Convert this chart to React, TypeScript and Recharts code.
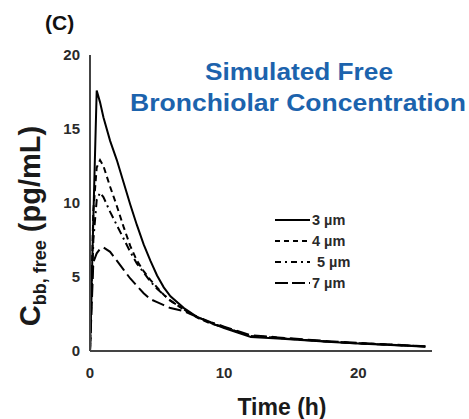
import React from 'react';
import { LineChart, Line, XAxis, YAxis, Customized } from 'recharts';

const times = [0, 0.25, 0.5, 0.75, 1, 1.5, 2, 2.5, 3, 3.5, 4, 4.5, 5, 5.5, 6, 7, 8, 9, 10, 11, 12, 13, 14, 16, 18, 20, 22, 24, 25];
const s3 = [0, 9.0, 17.6, 16.8, 15.8, 14.2, 12.9, 11.4, 9.9, 8.5, 7.2, 6.1, 5.1, 4.3, 3.7, 2.9, 2.3, 1.9, 1.55, 1.25, 0.95, 0.9, 0.85, 0.72, 0.6, 0.5, 0.42, 0.33, 0.28];
const s4 = [0, 9.5, 12.4, 12.9, 12.5, 11.1, 9.8, 8.4, 7.1, 6.1, 5.4, 4.8, 4.3, 3.8, 3.4, 2.8, 2.25, 1.85, 1.6, 1.3, 1.0, 0.95, 0.9, 0.75, 0.62, 0.52, 0.44, 0.35, 0.3];
const s5 = [0, 7.5, 10.2, 10.7, 10.4, 9.4, 8.5, 7.6, 6.7, 5.9, 5.3, 4.7, 4.2, 3.8, 3.4, 2.8, 2.3, 1.9, 1.6, 1.3, 1.0, 0.95, 0.88, 0.74, 0.62, 0.52, 0.43, 0.35, 0.3];
const s7 = [0, 6.0, 6.6, 6.9, 7.0, 6.7, 6.1, 5.5, 4.9, 4.4, 3.9, 3.5, 3.3, 3.1, 2.9, 2.7, 2.3, 1.95, 1.65, 1.35, 1.05, 1.0, 0.92, 0.78, 0.65, 0.55, 0.46, 0.37, 0.32];

const seriesNames = ['3 µm', '4 µm', '5 µm', '7 µm'];
const seriesKeys = ['s3', 's4', 's5', 's7'];
const seriesDash = ['', '6 4', '8 4 2 4', '13 5'];
const legendDash = ['', '5 4', '6 4 2 4', '13 4'];
const xTicks = [0, 10, 20];
const yTicks = [0, 5, 10, 15, 20];

const data = times.map((t, i) => ({ t, s3: s3[i], s4: s4[i], s5: s5[i], s7: s7[i] }));

const FONT = 'Liberation Sans, Arial, sans-serif';
const TICK = { fontFamily: FONT, fontSize: 15, fontWeight: 700, fill: '#2a2a2a' };

const LegendBlock = () => (
  <g transform="translate(275, 220)">
    {seriesNames.map((n, i) => (
      <g key={n}>
        <line x1={0} x2={35} y1={i * 21} y2={i * 21} stroke="#000" strokeWidth={2} strokeDasharray={legendDash[i]} />
        <text x={i === 2 ? 42 : 37} y={i * 21} dy="0.35em" fontFamily={FONT} fontSize={14.5} fontWeight={700} fill="#2a2a2a">{n}</text>
      </g>
    ))}
  </g>
);

const YLabel = () => (
  <text transform="rotate(-90, 40, 226)" x={40} y={226} textAnchor="middle" fontFamily={FONT} fontWeight={700} fill="#1a1a1a" fontSize={29}>
    <tspan>C</tspan>
    <tspan fontSize={18} dy={6}>bb, free</tspan>
    <tspan dy={-6}> (pg/mL)</tspan>
  </text>
);

const Extras = () => (
  <g>
    <text x={45} y={30} fontFamily={FONT} fontWeight={700} fontSize={21} fill="#111">(C)</text>
    <text x={299} y={80} textAnchor="middle" fontFamily={FONT} fontWeight={700} fontSize={24} fill="#1c63ad" textLength={188} lengthAdjust="spacingAndGlyphs">Simulated Free</text>
    <text x={298} y={111} textAnchor="middle" fontFamily={FONT} fontWeight={700} fontSize={24} fill="#1c63ad" textLength={336} lengthAdjust="spacingAndGlyphs">Bronchiolar Concentration</text>
    <text x={282} y={415} textAnchor="middle" fontFamily={FONT} fontWeight={700} fontSize={23} fill="#1a1a1a">Time (h)</text>
    <YLabel />
    <LegendBlock />
  </g>
);

export default function App() {
  return (
    <div style={{ position: 'absolute', left: 0, top: 0, background: '#fff' }}>
      <LineChart width={469} height={419} data={data} margin={{ top: 55, right: 37, bottom: 38, left: 40 }}>
        <XAxis
          dataKey="t"
          type="number"
          domain={[0, 25.5]}
          ticks={xTicks}
          tickLine={false}
          tickMargin={10}
          axisLine={{ stroke: '#444', strokeWidth: 2 }}
          tick={TICK}
          height={30}
        />
        <YAxis
          type="number"
          domain={[0, 20]}
          ticks={yTicks}
          tickLine={false}
          tickMargin={4}
          axisLine={{ stroke: '#444', strokeWidth: 2 }}
          tick={TICK}
          width={50}
        />
        {seriesKeys.map((k, i) => (
          <Line
            key={k}
            dataKey={k}
            name={seriesNames[i]}
            type="linear"
            stroke="#000"
            strokeWidth={2}
            strokeDasharray={seriesDash[i]}
            dot={false}
            isAnimationActive={false}
          />
        ))}
        <Customized component={Extras} />
      </LineChart>
    </div>
  );
}
